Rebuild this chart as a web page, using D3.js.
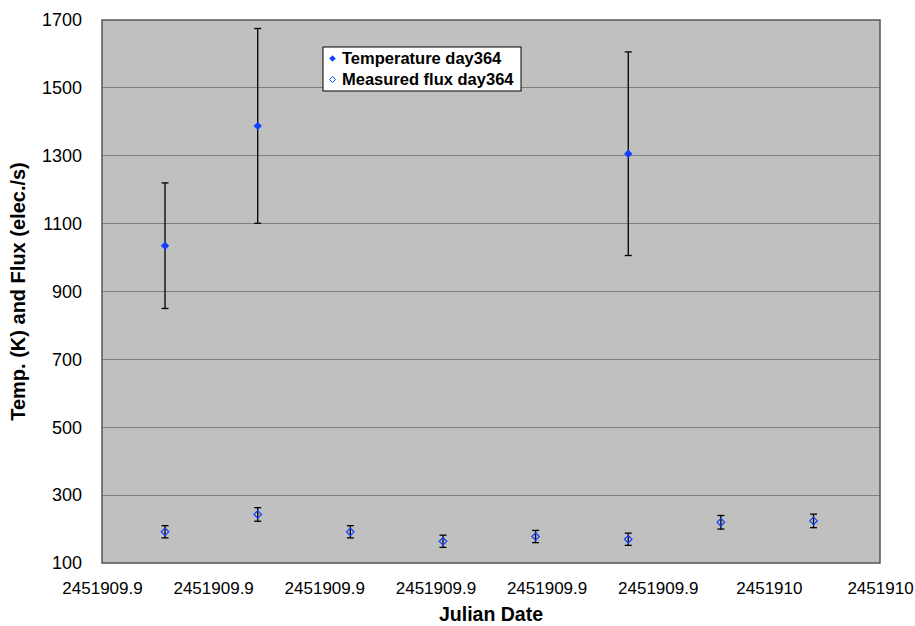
<!DOCTYPE html>
<html>
<head>
<meta charset="utf-8">
<script src="https://cdn.jsdelivr.net/npm/d3@7"></script>
<style>
  html, body { margin: 0; padding: 0; background: #fff; }
  svg { display: block; font-family: "Liberation Sans", Arial, Helvetica, sans-serif; }
</style>
</head>
<body>
<svg id="chart" width="915" height="626"></svg>
<script>
// ---- data ----
const xTicks = [2451909.89, 2451909.90, 2451909.91, 2451909.92, 2451909.93, 2451909.94, 2451909.95, 2451909.96];
const xTickLabels = ["2451909.9", "2451909.9", "2451909.9", "2451909.9", "2451909.9", "2451909.9", "2451910", "2451910"];
const yTicks = [100, 300, 500, 700, 900, 1100, 1300, 1500, 1700];

const fluxDates = [2451909.89567, 2451909.90401, 2451909.91234, 2451909.92068, 2451909.92901, 2451909.93735, 2451909.94568, 2451909.95402];
const fluxValues = [192, 243, 192, 164, 178, 170, 220, 224];
const fluxErrors = [18, 20, 18, 18, 18, 18, 20, 20];

const tempDates = [2451909.89567, 2451909.90401, 2451909.93735];
const tempValues = [1035, 1388, 1306];
const tempErrors = [185, 287, 300];

const seriesNames = ["Temperature day364", "Measured flux day364"];

// ---- layout ----
const W = 915, H = 626;
const m = { left: 102, right: 35, top: 20, bottom: 63 };
const pw = W - m.left - m.right, ph = H - m.top - m.bottom;
const blue = "#1440ff";

const svg = d3.select("#chart");
const g = svg.append("g").attr("transform", `translate(${m.left},${m.top})`);

const x = d3.scaleLinear().domain([xTicks[0], xTicks[xTicks.length - 1]]).range([0, pw]);
const y = d3.scaleLinear().domain([100, 1700]).range([ph, 0]);

// plot background
g.append("rect").attr("width", pw).attr("height", ph).attr("fill", "#c0c0c0");

// gridlines
g.append("g").selectAll("line").data(yTicks.slice(1, -1)).join("line")
  .attr("x1", 0).attr("x2", pw).attr("y1", d => y(d)).attr("y2", d => y(d))
  .attr("stroke", "#808080").attr("stroke-width", 1).attr("shape-rendering", "crispEdges");

// border
g.append("rect").attr("width", pw).attr("height", ph).attr("fill", "none")
  .attr("stroke", "#555").attr("stroke-width", 1.5);

// axes
const xAxis = g.append("g").attr("transform", `translate(0,${ph})`)
  .call(d3.axisBottom(x).tickValues(xTicks).tickFormat((d, i) => xTickLabels[i]).tickSize(0).tickPadding(19));
xAxis.select(".domain").remove();
xAxis.selectAll("text").attr("font-size", 17).attr("fill", "#000").attr("font-family", "Liberation Sans, Arial, sans-serif");

const yAxis = g.append("g")
  .call(d3.axisLeft(y).tickValues(yTicks).tickFormat(d3.format("d")).tickSize(0).tickPadding(20));
yAxis.select(".domain").remove();
yAxis.selectAll("text").attr("font-size", 18).attr("fill", "#000").attr("font-family", "Liberation Sans, Arial, sans-serif");

// axis titles
svg.append("text").attr("x", m.left + pw / 2).attr("y", 621)
  .attr("text-anchor", "middle").attr("font-weight", "bold").attr("font-size", 19.5).text("Julian Date");
svg.append("text").attr("transform", `translate(25,${m.top + ph / 2}) rotate(-90)`)
  .attr("text-anchor", "middle").attr("font-weight", "bold").attr("font-size", 20).text("Temp. (K) and Flux (elec./s)");

// error bars
function errorBars(dates, vals, errs) {
  const eg = g.append("g").attr("stroke", "#000").attr("stroke-width", 1.3);
  const data = dates.map((d, i) => ({ d, v: vals[i], e: errs[i] }));
  eg.selectAll(".v").data(data).join("line")
    .attr("x1", p => x(p.d)).attr("x2", p => x(p.d))
    .attr("y1", p => y(p.v + p.e)).attr("y2", p => y(p.v - p.e));
  eg.selectAll(".t").data(data).join("line")
    .attr("x1", p => x(p.d) - 3.5).attr("x2", p => x(p.d) + 3.5)
    .attr("y1", p => y(p.v + p.e)).attr("y2", p => y(p.v + p.e));
  eg.selectAll(".b").data(data).join("line")
    .attr("x1", p => x(p.d) - 3.5).attr("x2", p => x(p.d) + 3.5)
    .attr("y1", p => y(p.v - p.e)).attr("y2", p => y(p.v - p.e));
}
errorBars(tempDates, tempValues, tempErrors);
errorBars(fluxDates, fluxValues, fluxErrors);

const diamond = (cx, cy, r) => `M${cx},${cy - r}L${cx + r},${cy}L${cx},${cy + r}L${cx - r},${cy}Z`;

// markers
g.append("g").selectAll("path").data(tempDates.map((d, i) => [d, tempValues[i]])).join("path")
  .attr("d", p => diamond(x(p[0]), y(p[1]), 4.2)).attr("fill", blue);
g.append("g").selectAll("path").data(fluxDates.map((d, i) => [d, fluxValues[i]])).join("path")
  .attr("d", p => diamond(x(p[0]), y(p[1]), 3.8)).attr("fill", "none").attr("stroke", blue).attr("stroke-width", 1.2);

// legend
const lg = svg.append("g").attr("transform", "translate(323,47)");
lg.append("rect").attr("width", 198).attr("height", 44).attr("fill", "#fff").attr("stroke", "#000").attr("stroke-width", 1);
lg.append("path").attr("d", diamond(9.5, 11.5, 3.3)).attr("fill", blue);
lg.append("path").attr("d", diamond(9.5, 32.5, 3)).attr("fill", "none").attr("stroke", blue).attr("stroke-width", 1);
lg.append("text").attr("x", 19).attr("y", 17).attr("font-weight", "bold").attr("font-size", 16.5).text(seriesNames[0]);
lg.append("text").attr("x", 19).attr("y", 38).attr("font-weight", "bold").attr("font-size", 16.5).text(seriesNames[1]);
</script>
</body>
</html>
